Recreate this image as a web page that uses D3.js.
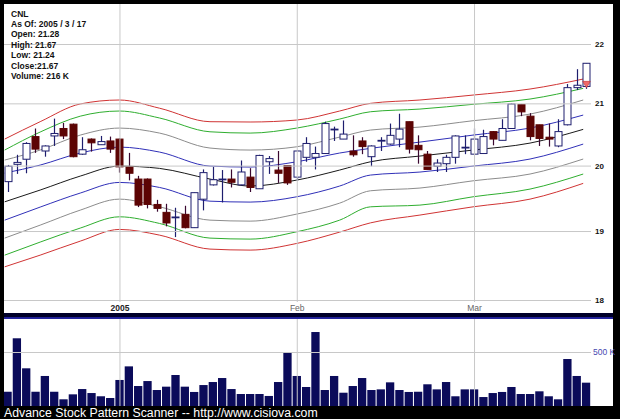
<!DOCTYPE html>
<html><head><meta charset="utf-8">
<script src="https://cdn.jsdelivr.net/npm/d3@7"></script>
<style>html,body{margin:0;padding:0;background:#000;}svg{display:block;}</style>
</head><body>
<svg id="c" width="620" height="419"></svg>
<script>
// ---------- DATA ----------
const symbol = "CNL";
const infoLines = ["CNL", "As Of: 2005 / 3 / 17", "Open: 21.28", "High: 21.67", "Low: 21.24", "Close:21.67", "Volume: 216 K"];
const opens  = [19.75,20.02,20.10,20.46,20.23,20.47,20.59,20.66,20.18,20.42,20.33,20.39,20.42,19.98,19.79,19.79,19.40,19.28,19.20,19.25,19.05,19.48,19.70,19.78,19.79,19.70,19.82,19.64,20.06,19.93,20.00,19.82,20.13,20.13,20.19,20.57,20.42,20.23,20.39,20.14,20.40,20.34,20.42,20.70,20.32,20.18,19.99,20.03,20.13,20.29,20.18,20.19,20.54,20.40,20.59,20.98,20.79,20.65,20.45,20.31,20.65,21.26,21.28];
const highs  = [20.01,20.17,20.37,20.59,20.32,20.75,20.68,20.67,20.45,20.43,20.47,20.46,20.43,20.20,19.84,19.80,19.47,19.41,19.35,19.38,19.58,19.94,19.98,19.93,19.94,20.08,19.96,20.17,20.15,20.23,20.00,20.24,20.45,20.30,20.70,20.62,20.72,20.48,20.45,20.32,20.45,20.67,20.83,20.70,20.48,20.23,20.10,20.17,20.48,20.48,20.59,20.57,20.55,20.74,21.00,20.99,20.84,20.65,20.67,20.74,21.32,21.57,21.67];
const lows   = [19.59,19.87,19.88,20.20,20.14,20.31,20.42,20.13,20.17,20.22,20.33,20.20,19.89,19.77,19.36,19.34,19.29,19.07,18.91,19.04,19.05,19.31,19.69,19.43,19.66,19.69,19.59,19.64,19.87,19.73,19.70,19.77,20.06,19.94,20.19,20.39,20.42,20.14,20.18,19.99,20.23,20.33,20.29,20.19,20.03,19.94,19.90,19.90,20.03,20.18,20.18,20.19,20.32,20.40,20.59,20.79,20.40,20.31,20.30,20.29,20.64,21.22,21.24];
const closes = [19.99,20.05,20.35,20.26,20.31,20.51,20.47,20.14,20.25,20.36,20.38,20.26,19.98,19.88,19.39,19.40,19.34,19.12,19.21,19.05,19.58,19.89,19.78,19.79,19.74,19.90,19.66,20.16,20.11,19.88,19.73,20.23,20.35,20.19,20.67,20.58,20.50,20.17,20.30,20.31,20.40,20.48,20.58,20.26,20.25,19.94,20.04,20.13,20.47,20.29,20.42,20.46,20.42,20.59,20.99,20.86,20.46,20.43,20.42,20.54,21.26,21.30,21.67];
const volumesK = [132,627,349,132,278,132,62,108,157,120,90,74,241,367,185,231,148,179,287,179,130,194,222,259,157,111,111,111,93,222,491,278,176,685,148,278,123,185,259,148,154,219,148,130,132,201,154,222,90,154,154,83,120,130,176,111,111,136,90,62,435,278,216];

// band lines, read at these bar positions
const bandIdx     = [-0.3, 3.5, 7.8, 12, 16.3, 21.7, 26, 31, 35.6, 38.9, 44.2, 49.9, 56, 61.7];
const redUpper    = [20.42,20.70,20.99,21.055,20.92,20.70,20.695,20.727,20.874,21.00,21.055,21.137,21.237,21.404];
const greenUpper  = [20.245,20.533,20.79,20.874,20.76,20.537,20.516,20.597,20.743,20.862,20.906,20.984,21.071,21.248];
const grayUpper   = [20.087,20.245,20.484,20.597,20.516,20.277,20.245,20.297,20.452,20.565,20.613,20.716,20.824,21.055];
const blueUpper   = [19.883,20.008,20.198,20.292,20.213,19.992,19.977,20.060,20.198,20.272,20.372,20.484,20.597,20.808];
const centerLine  = [19.44,19.62,19.836,19.992,19.956,19.790,19.682,19.774,19.930,20.060,20.150,20.245,20.356,20.576];
const blueLower   = [19.163,19.36,19.574,19.738,19.66,19.45,19.436,19.517,19.682,19.852,19.899,19.992,20.103,20.340];
const grayLower   = [18.895,19.088,19.314,19.481,19.364,19.163,19.148,19.254,19.42,19.609,19.651,19.763,19.868,20.103];
const greenLower  = [18.644,18.836,19.044,19.213,19.113,18.895,18.88,18.989,19.163,19.364,19.39,19.517,19.635,19.868];
const redLower    = [18.474,18.644,18.85,19.024,18.939,18.733,18.718,18.816,18.984,19.122,19.239,19.364,19.481,19.723];

const priceTicks = [18, 19, 20, 21, 22];
const monthTickIdx = [12, 31, 50];
const monthTickLabels = ["2005", "Feb", "Mar"];
const volTicks = [500];
const footer = "Advance Stock Pattern Scanner -- http://www.cisiova.com";

// ---------- DRAW ----------
const svg = d3.select("#c");
const FONT = "'Liberation Sans', Arial, sans-serif";
svg.append("rect").attr("width", 620).attr("height", 419).attr("fill", "#000");

const M = {x0: 4, x1: 613, y0: 4, y1: 313};
const V = {x0: 4, x1: 613, y0: 319, y1: 406};
svg.append("rect").attr("x", M.x0).attr("y", M.y0).attr("width", M.x1 - M.x0).attr("height", M.y1 - M.y0).attr("fill", "#fff");
svg.append("rect").attr("x", M.x0).attr("y", M.y1).attr("width", M.x1 - M.x0).attr("height", 5).attr("fill", "#00002a");
svg.append("rect").attr("x", M.x0).attr("y", 317.3).attr("width", M.x1 - M.x0).attr("height", 1.5).attr("fill", "#3030c8");
svg.append("rect").attr("x", V.x0).attr("y", V.y0).attr("width", V.x1 - V.x0).attr("height", V.y1 - V.y0).attr("fill", "#fff");

const defs = svg.append("defs");
defs.append("clipPath").attr("id", "clipM").append("rect").attr("x", M.x0).attr("y", M.y0).attr("width", M.x1 - M.x0).attr("height", M.y1 - M.y0);
defs.append("clipPath").attr("id", "clipV").append("rect").attr("x", V.x0).attr("y", V.y0).attr("width", V.x1 - V.x0).attr("height", V.y1 - V.y0);

const x = d3.scaleLinear().domain([0, 62]).range([7.5, 586]);
const y = d3.scaleLog().domain([18, 22]).range([300, 44]);
const vy = d3.scaleLinear().domain([0, 805.6]).range([V.y1, V.y0]);

const gridColor = "#c8c8c8";
const gM = svg.append("g").attr("clip-path", "url(#clipM)");
const gV = svg.append("g").attr("clip-path", "url(#clipV)");

// price grid + labels
const ya = svg.append("g").attr("transform", "translate(591,0)")
  .call(d3.axisRight(y).tickValues(priceTicks).tickFormat(d3.format("d")).tickSize(-587).tickPadding(4));
ya.select(".domain").remove();
ya.selectAll("line").attr("stroke", gridColor);
ya.selectAll("text").attr("font-family", FONT).attr("font-size", 8).attr("font-weight", "bold").attr("fill", "#111");

// month grid + labels
const xa = svg.append("g").attr("transform", "translate(0,302)")
  .call(d3.axisBottom(x).tickValues(monthTickIdx).tickFormat((d, i) => monthTickLabels[i]).tickSize(-298).tickPadding(3));
xa.select(".domain").remove();
xa.selectAll("line").attr("stroke", gridColor);
xa.selectAll("text").attr("font-family", FONT).attr("font-size", 8.5)
  .attr("font-weight", (d, i) => i === 0 ? "bold" : "normal")
  .attr("fill", (d, i) => i === 0 ? "#222" : "#666");

// volume grid
const va = svg.append("g").attr("transform", "translate(591,0)")
  .call(d3.axisRight(vy).tickValues(volTicks).tickFormat(d => d + " K").tickSize(-587).tickPadding(2));
va.select(".domain").remove();
va.selectAll("line").attr("stroke", gridColor);
va.selectAll("text").attr("font-family", FONT).attr("font-size", 8.5).attr("fill", "#4848b0");
const vxa = svg.append("g").attr("transform", "translate(0," + V.y1 + ")")
  .call(d3.axisBottom(x).tickValues(monthTickIdx).tickFormat("").tickSize(-(V.y1 - V.y0)));
vxa.select(".domain").remove();
vxa.selectAll("line").attr("stroke", gridColor);

// bands
const bands = [
  {v: redLower, c: "#d03434"}, {v: greenLower, c: "#2fae2f"}, {v: grayLower, c: "#8c8c8c"}, {v: blueLower, c: "#3030b8"},
  {v: centerLine, c: "#1a1a1a"},
  {v: blueUpper, c: "#3030b8"}, {v: grayUpper, c: "#8c8c8c"}, {v: greenUpper, c: "#2fae2f"}, {v: redUpper, c: "#d03434"}
];
const line = d3.line().x(d => x(d[0])).y(d => y(d[1])).curve(d3.curveMonotoneX);
bands.forEach(b => {
  gM.append("path").attr("d", line(bandIdx.map((k, i) => [k, b.v[i]])))
    .attr("fill", "none").attr("stroke", b.c).attr("stroke-width", 1);
});

// candles
const bars = d3.range(opens.length).map(i => ({i, o: opens[i], h: highs[i], l: lows[i], c: closes[i], v: volumesK[i]}));
const navy = "#1e1e6e", maroon = "#5c0404";
const cg = gM.selectAll("g.candle").data(bars).join("g").attr("class", "candle");
cg.append("line")
  .attr("x1", d => Math.round(x(d.i)) + 0.5).attr("x2", d => Math.round(x(d.i)) + 0.5)
  .attr("y1", d => y(d.h)).attr("y2", d => y(d.l))
  .attr("stroke", d => d.c >= d.o ? navy : "#3a0830").attr("stroke-width", 1.2);
cg.append("rect")
  .attr("x", d => Math.round(x(d.i)) - 3)
  .attr("width", 7)
  .attr("y", d => y(Math.max(d.o, d.c)))
  .attr("height", d => Math.max(0.8, y(Math.min(d.o, d.c)) - y(Math.max(d.o, d.c))))
  .attr("fill", d => d.c >= d.o ? "#fff" : maroon)
  .attr("stroke", d => d.c >= d.o ? navy : maroon)
  .attr("stroke-width", 1);

// signal marker on last bar
const last = bars[bars.length - 1];
const tx = Math.round(x(last.i)) + 0.5, tipY = y(last.l) - 1;
gM.append("path").attr("d", `M${tx - 3.8},${tipY - 6.5}L${tx + 3.8},${tipY - 6.5}L${tx},${tipY}Z`)
  .attr("fill", "#ef6a6a").attr("stroke", "#c03030").attr("stroke-width", 0.6);

// volume bars
gV.selectAll("rect.vb").data(bars).join("rect").attr("class", "vb")
  .attr("x", d => x(d.i) - 4.1).attr("width", 8.3)
  .attr("y", d => vy(d.v)).attr("height", d => V.y1 - vy(d.v))
  .attr("fill", "#0b0b5a");

// info text
svg.append("g").selectAll("text").data(infoLines).join("text")
  .attr("x", 11).attr("y", (d, i) => 16.5 + i * 10.4)
  .attr("font-family", FONT).attr("font-size", 8.5).attr("font-weight", "bold").attr("fill", "#111")
  .text(d => d);

// footer
svg.append("text").attr("x", 4).attr("y", 417.3).attr("font-family", FONT).attr("font-size", 12.3)
  .attr("fill", "#fff").text(footer);
</script>
</body></html>
